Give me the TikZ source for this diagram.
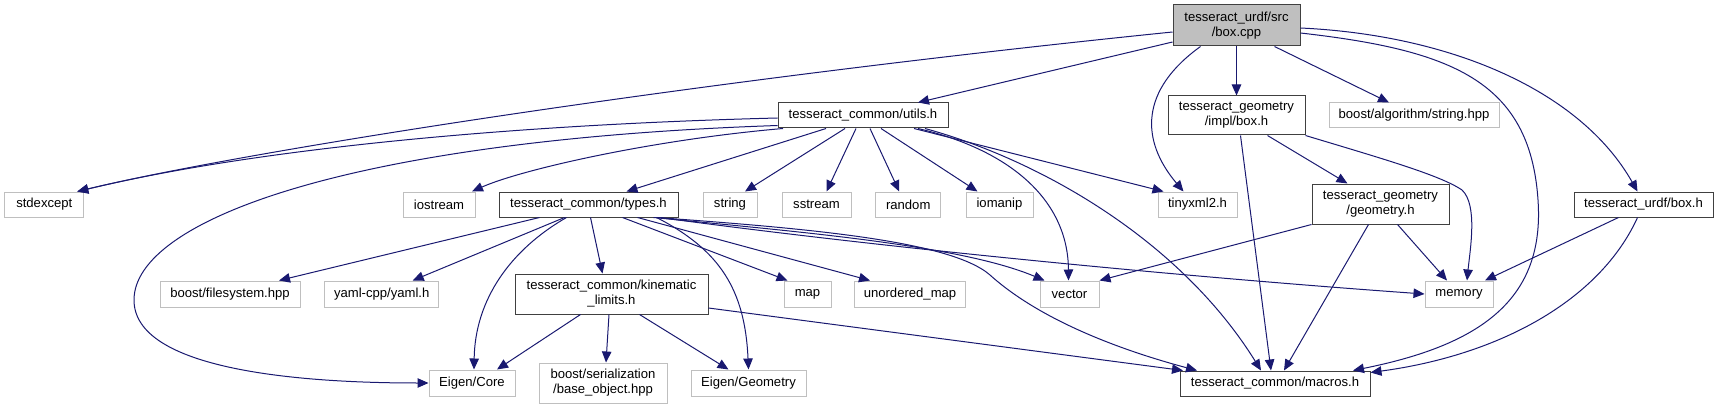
\documentclass[tikz,border=0pt]{standalone}
\usepackage{fontspec}
\setmainfont{Liberation Sans}
\usetikzlibrary{arrows.meta}
\definecolor{edgeblue}{HTML}{191970}
\definecolor{grayline}{HTML}{BFBFBF}
\definecolor{mainfill}{HTML}{BFBFBF}
\definecolor{darkline}{HTML}{404040}
\begin{document}
\begin{tikzpicture}[x=1pt,y=-1pt,
  every node/.style={font=\fontsize{13.1pt}{15pt}\selectfont, inner sep=0pt, align=center, text=black},
  incbox/.style={draw=darkline, line width=1pt, fill=white},
  mainbox/.style={draw=darkline, line width=1pt, fill=mainfill},
  extbox/.style={draw=grayline, line width=1pt, fill=white},
  edge/.style={draw=edgeblue, line width=1pt, -{Triangle[length=11pt,width=9.5pt]}},
]
\useasboundingbox (0,0) rectangle (1718,409);

% row 0
\node[mainbox, minimum width=127pt, minimum height=41pt] (cpp) at (1236.5,25.5) {tesseract\_urdf/src\\/box.cpp};
% row 1
\node[incbox, minimum width=170pt, minimum height=25pt] (utils) at (863,115.5) {tesseract\_common/utils.h};
\node[incbox, minimum width=137pt, minimum height=39pt] (implbox) at (1236.5,115.5) {tesseract\_geometry\\/impl/box.h};
\node[extbox, minimum width=170pt, minimum height=25pt] (boostalg) at (1414,115.5) {boost/algorithm/string.hpp};
% row 2
\node[extbox, minimum width=79pt, minimum height=25pt] (stdexcept) at (44.3,204.5) {stdexcept};
\node[extbox, minimum width=72pt, minimum height=25pt] (iostream) at (439,204.5) {iostream};
\node[incbox, minimum width=179pt, minimum height=25pt] (types) at (588.5,204.5) {tesseract\_common/types.h};
\node[extbox, minimum width=54pt, minimum height=25pt] (string) at (730,204.5) {string};
\node[extbox, minimum width=69pt, minimum height=25pt] (sstream) at (816.5,204.5) {sstream};
\node[extbox, minimum width=65.5pt, minimum height=25pt] (random) at (908.2,204.5) {random};
\node[extbox, minimum width=67pt, minimum height=25pt] (iomanip) at (999.5,204.5) {iomanip};
\node[extbox, minimum width=79pt, minimum height=25pt] (tinyxml) at (1197.5,204.5) {tinyxml2.h};
\node[incbox, minimum width=137pt, minimum height=40pt] (geometry) at (1380.5,204) {tesseract\_geometry\\/geometry.h};
\node[incbox, minimum width=139pt, minimum height=25pt] (urdfbox) at (1643.5,204.5) {tesseract\_urdf/box.h};
% row 3
\node[extbox, minimum width=140pt, minimum height=26pt] (filesystem) at (230,294) {boost/filesystem.hpp};
\node[extbox, minimum width=114.5pt, minimum height=26pt] (yaml) at (381.7,294) {yaml-cpp/yaml.h};
\node[incbox, minimum width=193pt, minimum height=40pt] (kin) at (611.5,294) {tesseract\_common/kinematic\\\_limits.h};
\node[extbox, minimum width=47pt, minimum height=26pt] (map) at (807.5,294) {map};
\node[extbox, minimum width=111pt, minimum height=26pt] (unordered) at (910,294) {unordered\_map};
\node[extbox, minimum width=59pt, minimum height=26pt] (vector) at (1069.5,294) {vector};
\node[extbox, minimum width=68pt, minimum height=26pt] (memory) at (1459,294) {memory};
% row 4
\node[extbox, minimum width=86pt, minimum height=26pt] (eigencore) at (472,383) {Eigen/Core};
\node[extbox, minimum width=128pt, minimum height=40pt] (serial) at (603,383) {boost/serialization\\/base\_object.hpp};
\node[extbox, minimum width=115pt, minimum height=26pt] (eigengeo) at (748.5,383) {Eigen/Geometry};
\node[incbox, minimum width=190pt, minimum height=25pt] (macros) at (1275,383.5) {tesseract\_common/macros.h};

% edges from box.cpp
\draw[edge] ([yshift=-6.5pt]cpp.west) .. controls (700,80) and (250,150) .. ([xshift=33pt]stdexcept.north);
\draw[edge] ([yshift=-16.5pt]cpp.west) -- ([xshift=55pt]utils.north);
\draw[edge] ([xshift=-36pt]cpp.south) .. controls (1140,90) and (1140,140) .. ([xshift=-14pt]tinyxml.north);
\draw[edge] (cpp.south) -- (implbox.north);
\draw[edge] ([xshift=38pt]cpp.south) -- ([xshift=-25pt]boostalg.north);
\draw[edge] ([yshift=-2.5pt]cpp.east) .. controls (1450,35) and (1580,90) .. ([xshift=-6pt]urdfbox.north);
\draw[edge] ([yshift=-7.5pt]cpp.east) .. controls (1450,50) and (1530,80) .. (1538,200)
  .. controls (1545,300) and (1480,345) .. ([xshift=78pt]macros.north);

% edges from utils.h
\draw[edge] ([yshift=-2.5pt]utils.west) .. controls (500,125) and (250,150) .. ([xshift=33pt]stdexcept.north);
\draw[edge] ([yshift=-10pt]utils.west) .. controls (350,140) and (134,220) .. (134,300)
  .. controls (134,370) and (300,383) .. (eigencore.west);
\draw[edge] ([xshift=-80pt]utils.south) .. controls (650,140) and (520,170) .. ([xshift=33pt]iostream.north);
\draw[edge] ([xshift=-37pt]utils.south) -- ([xshift=38pt]types.north);
\draw[edge] ([xshift=-18pt]utils.south) -- ([xshift=15pt]string.north);
\draw[edge] ([xshift=-7pt]utils.south) -- ([xshift=10pt]sstream.north);
\draw[edge] ([xshift=7pt]utils.south) -- ([xshift=-9pt]random.north);
\draw[edge] ([xshift=18pt]utils.south) -- ([xshift=-22pt]iomanip.north);
\draw[edge] ([xshift=51pt]utils.south) -- ([xshift=-34pt]tinyxml.north);
\draw[edge] ([xshift=55pt]utils.south) .. controls (1010,150) and (1068,200) .. ([xshift=-1pt]vector.north);
\draw[edge] ([xshift=62pt]utils.south) .. controls (1040,160) and (1180,240) .. ([xshift=-14pt]macros.north);

% edges from impl/box.h
\draw[edge] ([xshift=31pt]implbox.south) -- ([xshift=-33pt]geometry.north);
\draw[edge] ([xshift=4pt]implbox.south) -- ([xshift=-4pt]macros.north);
\draw[edge] (implbox.south east) .. controls (1380,158) and (1440,175) .. (1462,190)
  .. controls (1478,205) and (1470,250) .. ([xshift=8pt]memory.north);

% edges from geometry.h
\draw[edge] (geometry.south west) -- (vector.north east);
\draw[edge] ([xshift=-12pt]geometry.south) -- ([xshift=9pt]macros.north);
\draw[edge] ([xshift=17pt]geometry.south) -- ([xshift=-12pt]memory.north);

% edges from urdf/box.h
\draw[edge] ([xshift=-25pt]urdfbox.south) -- ([xshift=26pt]memory.north);
\draw[edge] ([xshift=-6pt]urdfbox.south) .. controls (1600,300) and (1500,355) .. ([yshift=-2pt]macros.north east);

% edges from types.h
\draw[edge] ([xshift=-49pt]types.south) -- ([xshift=49pt]filesystem.north);
\draw[edge] ([xshift=-24pt]types.south) -- ([xshift=31pt]yaml.north);
\draw[edge] ([xshift=-22pt]types.south) .. controls (510,250) and (475,300) .. ([xshift=2pt]eigencore.north);
\draw[edge] ([xshift=2pt]types.south) -- ([xshift=-9pt]kin.north);
\draw[edge] ([xshift=68pt]types.south) .. controls (720,250) and (745,290) .. (eigengeo.north);
\draw[edge] ([xshift=34pt]types.south) -- ([xshift=-20pt]map.north);
\draw[edge] ([xshift=49pt]types.south) -- ([xshift=-40pt]unordered.north);
\draw[edge] ([xshift=65pt]types.south) .. controls (800,232) and (960,245) .. ([xshift=-25pt]vector.north);
\draw[edge] ([xshift=71pt]types.south) .. controls (900,250) and (1200,278) .. (memory.west);
\draw[edge] ([xshift=68pt]types.south) .. controls (800,228) and (950,240) .. (990,275)
  .. controls (1040,320) and (1120,350) .. ([xshift=-78pt]macros.north);

% edges from kinematic_limits.h
\draw[edge] ([xshift=-31pt]kin.south) -- ([xshift=25pt]eigencore.north);
\draw[edge] ([xshift=-2.5pt]kin.south) -- ([xshift=3pt]serial.north);
\draw[edge] ([xshift=28pt]kin.south) -- ([xshift=-20pt]eigengeo.north);
\draw[edge] ([yshift=-14pt]kin.east) -- ([xshift=-92pt]macros.north);
\end{tikzpicture}
\end{document}
